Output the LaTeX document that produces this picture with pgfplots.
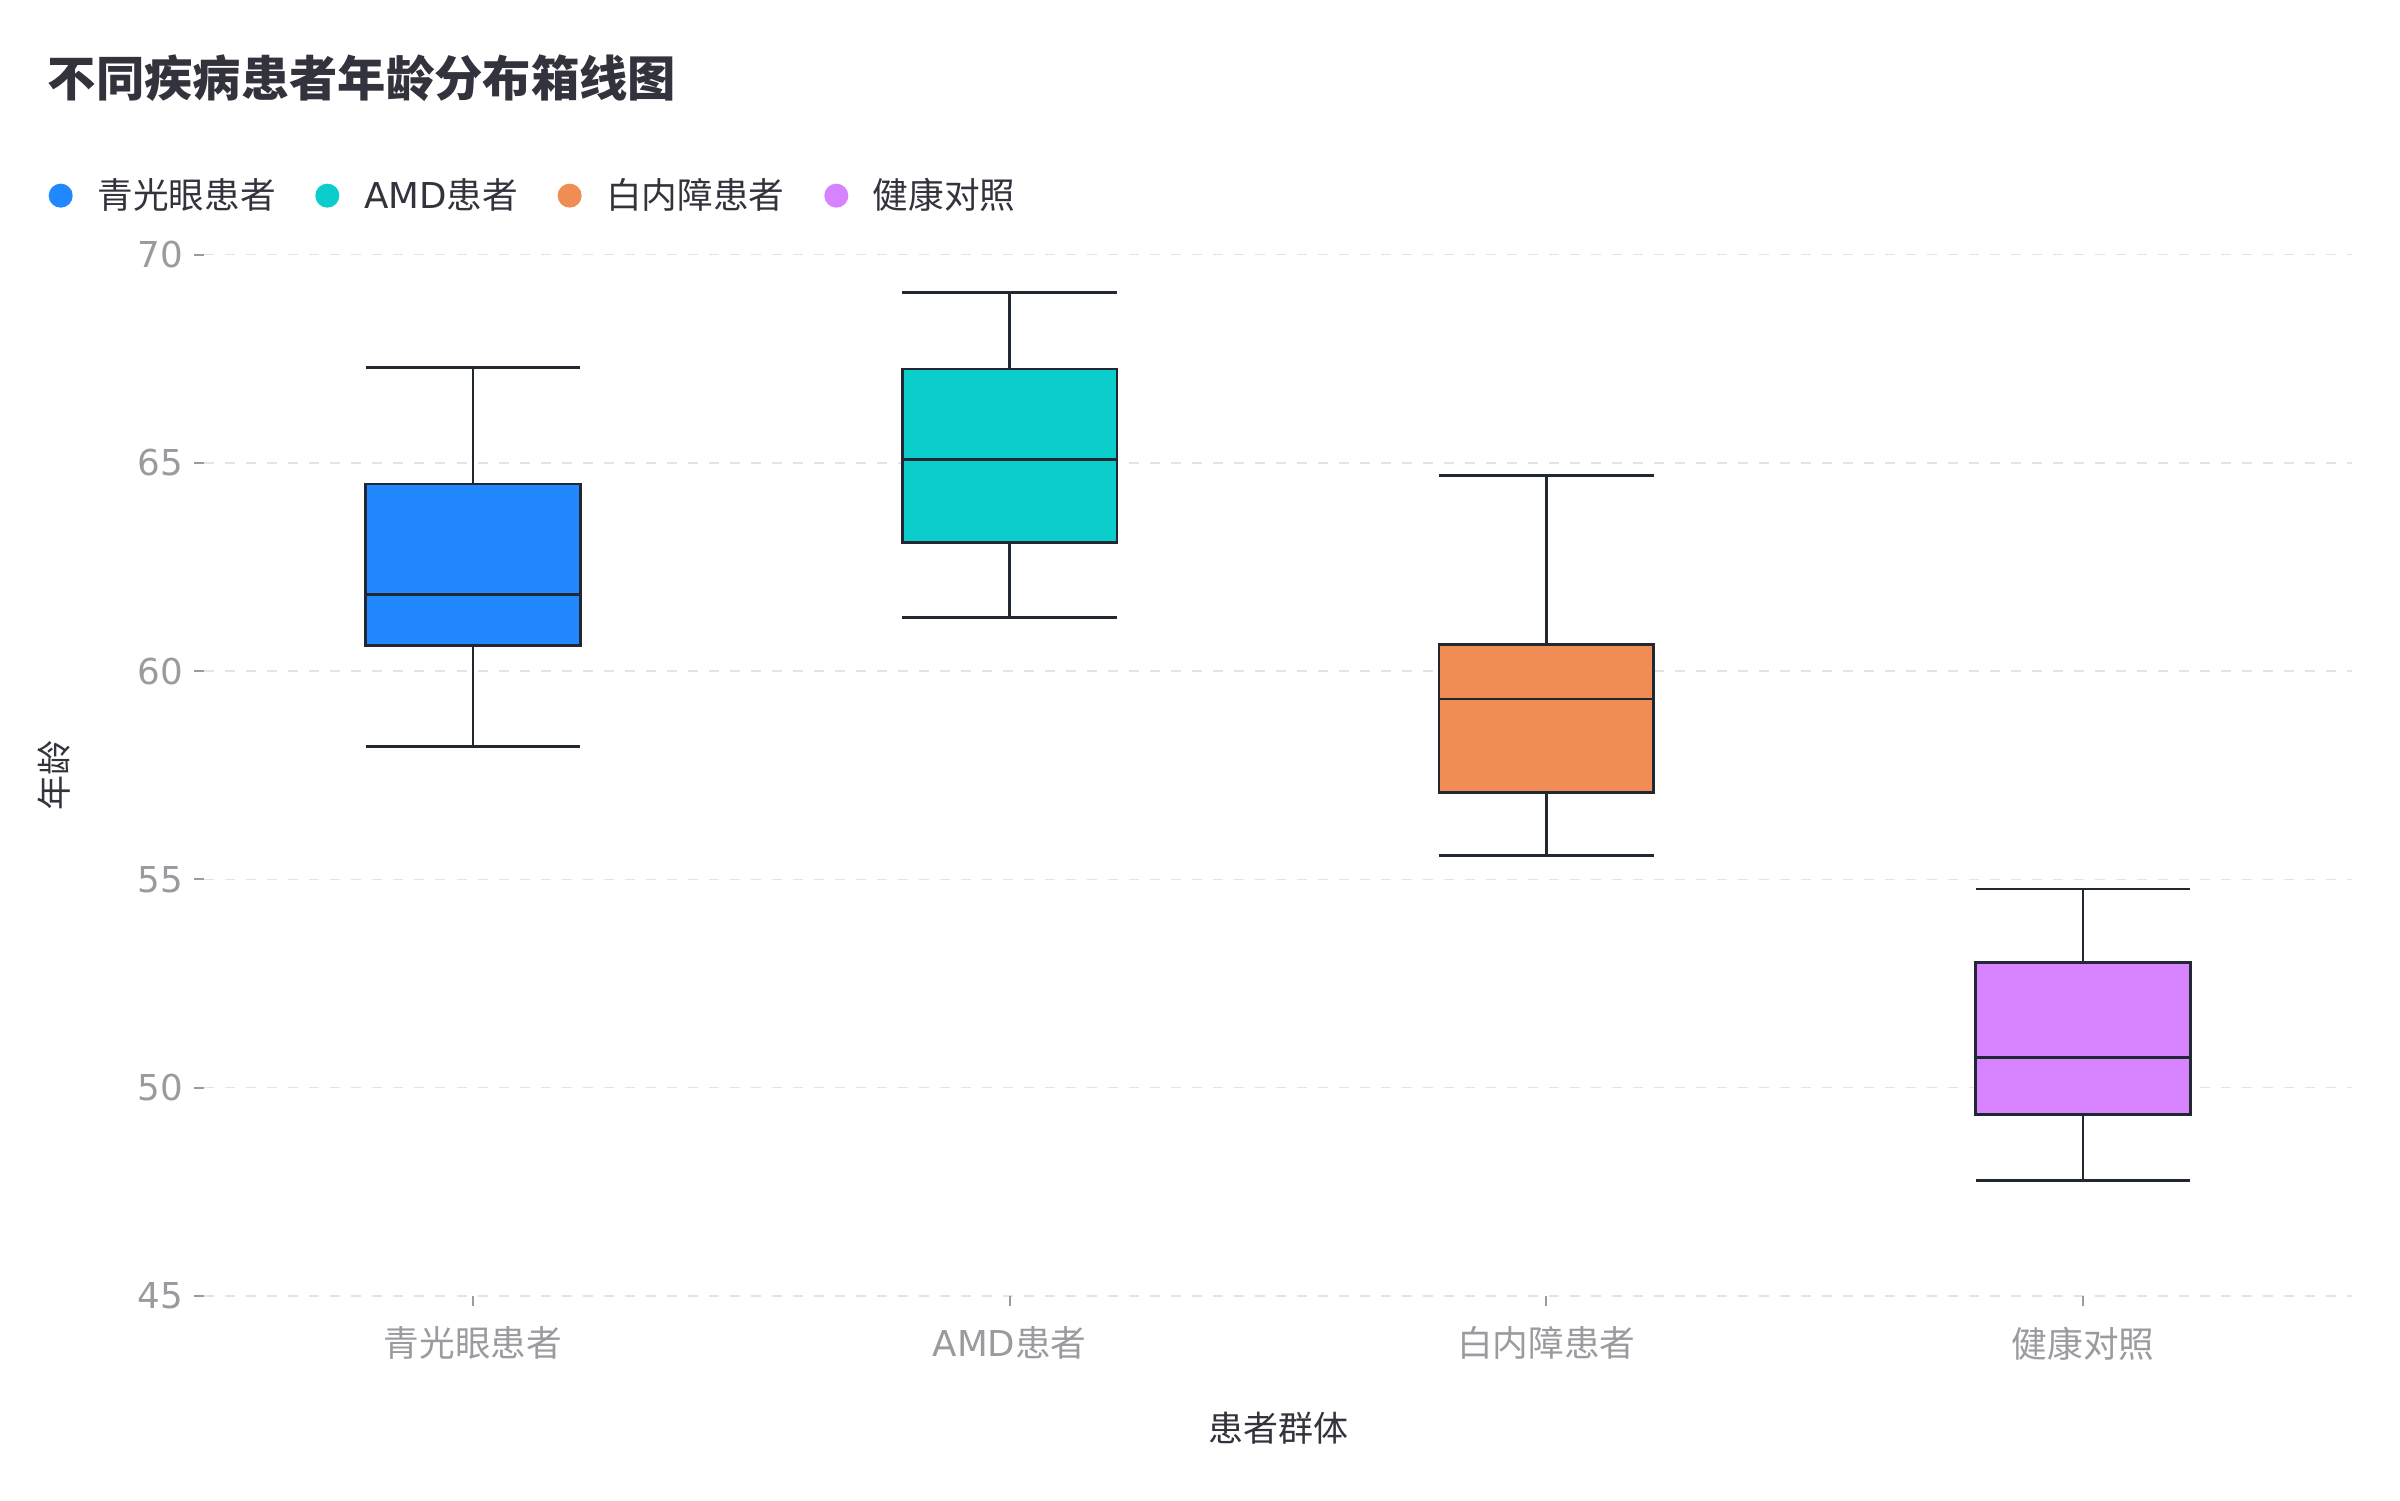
\documentclass[border=0pt]{standalone}
\usepackage{fontspec}
\setmainfont{DejaVu Sans}
\newfontfamily\cjk{Noto Sans CJK SC}
\usepackage{pgfplots}
\usepgfplotslibrary{statistics}
\pgfplotsset{compat=1.18}
\definecolor{cA}{HTML}{2288FF}
\definecolor{cB}{HTML}{0BCDCB}
\definecolor{cC}{HTML}{F08D55}
\definecolor{cD}{HTML}{D783FF}
\definecolor{edge}{HTML}{222831}
\definecolor{tickgray}{HTML}{9B9B9F}
\definecolor{gridgray}{HTML}{E4E4E4}
\definecolor{txt}{HTML}{33333D}
\begin{document}
\begin{tikzpicture}
\useasboundingbox (-61.35pt,-61.2pt) rectangle (658.65pt,388.8pt);
\begin{axis}[
  scale only axis, width=644.1pt, height=312.45pt,
  xmin=-0.5, xmax=3.5, ymin=45, ymax=70,
  axis line style={draw=none},
  tick align=outside, tick pos=left,
  major tick length=3pt,
  tick style={tickgray, line width=0.6pt},
  xtick={0,1,2,3},
  xticklabels={{\cjk 青光眼患者},{AMD\cjk 患者},{\cjk 白内障患者},{\cjk 健康对照}},
  xticklabel style={yshift=-2.7pt},
  ytick={45,50,...,70},
  ymajorgrids,
  grid style={gridgray, dash pattern=on 3pt off 3.3pt, line width=0.45pt},
  ticklabel style={font=\fontsize{10.7}{12}\selectfont, text=tickgray},
  /pgf/number format/assume math mode=true,
  xlabel={\cjk 患者群体}, ylabel={\cjk 年龄},
  label style={font=\fontsize{10.5}{12}\selectfont, text=txt},
  xlabel style={at={(axis description cs:0.5,-0.1267)}, anchor=center},
  ylabel style={at={(axis description cs:-0.0699,0.5)}, anchor=center},
  title={\cjk\bfseries 不同疾病患者年龄分布箱线图},
  title style={at={(axis description cs:-0.0785,1.1502)}, anchor=west, font=\fontsize{14.5}{17}\selectfont, text=txt},
  legend columns=4,
  legend style={at={(axis description cs:-0.07257,1.0565)}, anchor=west, draw=none, fill=none,
    inner sep=0pt, outer sep=0pt, font=\fontsize{10.7}{12}\selectfont, text=txt,
    /tikz/every odd column/.append style={column sep=5.4pt},
    /tikz/every even column/.append style={column sep=9.9pt}},
  boxplot/draw direction=y,
]
\addlegendimage{legend image code/.code={\fill[cA] (0pt,0pt) circle (3.4pt);}}
\addlegendentry{\cjk 青光眼患者}
\addlegendimage{legend image code/.code={\fill[cB] (0pt,0pt) circle (3.4pt);}}
\addlegendentry{AMD\cjk 患者}
\addlegendimage{legend image code/.code={\fill[cC] (0pt,0pt) circle (3.4pt);}}
\addlegendentry{\cjk 白内障患者}
\addlegendimage{legend image code/.code={\fill[cD] (0pt,0pt) circle (3.4pt);}}
\addlegendentry{\cjk 健康对照}

\addplot[forget plot, draw=edge, fill=cA, line width=0.8pt,
  boxplot prepared={lower whisker=58.19, lower quartile=60.61, median=61.84,
    upper quartile=64.49, upper whisker=67.28, draw position=0,
    box extend=0.4, whisker extend=0.4}] coordinates {};
\addplot[forget plot, draw=edge, fill=cB, line width=0.8pt,
  boxplot prepared={lower whisker=61.29, lower quartile=63.08, median=65.08,
    upper quartile=67.25, upper whisker=69.09, draw position=1,
    box extend=0.4, whisker extend=0.4}] coordinates {};
\addplot[forget plot, draw=edge, fill=cC, line width=0.8pt,
  boxplot prepared={lower whisker=55.57, lower quartile=57.09, median=59.33,
    upper quartile=60.64, upper whisker=64.69, draw position=2,
    box extend=0.4, whisker extend=0.4}] coordinates {};
\addplot[forget plot, draw=edge, fill=cD, line width=0.8pt,
  boxplot prepared={lower whisker=47.77, lower quartile=49.35, median=50.72,
    upper quartile=53.00, upper whisker=54.77, draw position=3,
    box extend=0.4, whisker extend=0.4}] coordinates {};
\end{axis}
\end{tikzpicture}
\end{document}
